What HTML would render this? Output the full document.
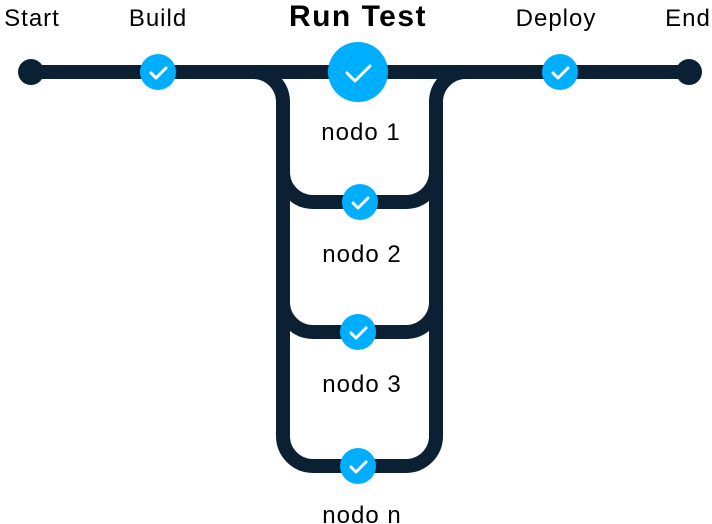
<!DOCTYPE html>
<html><head><style>
html,body{margin:0;padding:0;background:#fff;}
svg{display:block;}
text{font-family:"Liberation Sans",sans-serif;fill:#000;}
</style></head><body>
<svg width="712" height="524" viewBox="0 0 712 524">
<g fill="none" stroke="#0b2133" stroke-width="14" stroke-linecap="round">
<line x1="31" y1="72" x2="689" y2="72"/>
<path d="M253 72 A30 30 0 0 1 283 102 V436 A30 30 0 0 0 313 466 H406 A30 30 0 0 0 436 436 V102 A30 30 0 0 1 466 72"/>
<path d="M283 172 A30 30 0 0 0 313 202 H406 A30 30 0 0 0 436 172"/>
<path d="M283 302 A30 30 0 0 0 313 332 H406 A30 30 0 0 0 436 302"/>
</g>
<circle cx="31" cy="72" r="13" fill="#0b2133"/>
<circle cx="689" cy="72" r="13" fill="#0b2133"/>
<g fill="#00aeff">
<circle cx="158" cy="72" r="18"/>
<circle cx="358" cy="72" r="30"/>
<circle cx="560" cy="72" r="18"/>
<circle cx="360" cy="202" r="18"/>
<circle cx="358" cy="332" r="18"/>
<circle cx="358" cy="466" r="18"/>
</g>
<g fill="none" stroke="#fff" stroke-width="3" stroke-linecap="round" stroke-linejoin="round">
<path d="M151 73 l5 5 l10 -10"/>
<path d="M347 73 l8 8 l15 -15"/>
<path d="M553 73 l5 5 l10 -10"/>
<path d="M353 203 l5 5 l10 -10"/>
<path d="M351 333 l5 5 l10 -10"/>
<path d="M351 467 l5 5 l10 -10"/>
</g>
<g font-size="24" text-anchor="middle" letter-spacing="1">
<text x="32" y="26">Start</text>
<text x="158" y="26">Build</text>
<text x="358" y="26" font-size="30" font-weight="bold" letter-spacing="1.5">Run Test</text>
<text x="556" y="26">Deploy</text>
<text x="688" y="26">End</text>
<text x="361" y="140">nodo 1</text>
<text x="362" y="262">nodo 2</text>
<text x="362" y="392">nodo 3</text>
<text x="362" y="523">nodo n</text>
</g>
</svg>
</body></html>
